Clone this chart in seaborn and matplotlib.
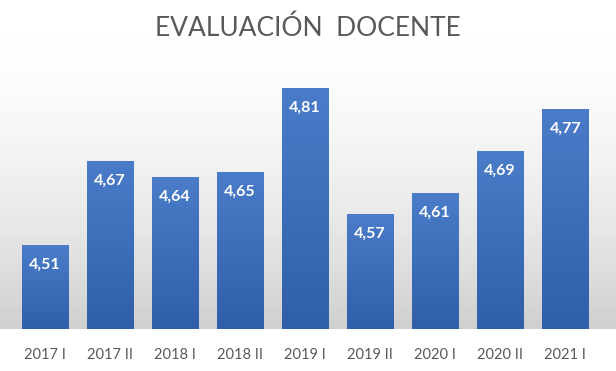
import numpy as np
import pandas as pd
import seaborn as sns
import matplotlib.pyplot as plt
from matplotlib.colors import LinearSegmentedColormap

periods = ['2017 I', '2017 II', '2018 I', '2018 II', '2019 I',
           '2019 II', '2020 I', '2020 II', '2021 I']
scores = [4.51, 4.67, 4.64, 4.65, 4.81, 4.57, 4.61, 4.69, 4.77]

df = pd.DataFrame({'periodo': periods, 'nota': scores})

sns.set_theme(style='white')
plt.rcParams['font.family'] = ['Lato', 'DejaVu Sans']

fig = plt.figure(figsize=(6.16, 3.71), dpi=100)

# soft grey backdrop behind the bars, white below the baseline
bg = fig.add_axes([0, 0, 1, 1], zorder=-5)
bg.axis('off')
rows = np.linspace(0, 1, 371)
shade = np.where(rows < 329 / 371, 1 - 0.19 * (rows / (329 / 371)) ** 1.8, 1.0)
bg.imshow(shade[:, None], cmap='gray', vmin=0, vmax=1, aspect='auto',
          extent=[0, 1, 1, 0])
bg.set_xlim(0, 1)
bg.set_ylim(1, 0)

ymin, ymax = 4.35, 4.85
ax = fig.add_axes([0.0203, 0.1132, 0.950, 0.7075])
ax.patch.set_alpha(0)
sns.barplot(data=df, x='periodo', y='nota', color='#4472c4', width=0.71,
            saturation=1, ax=ax)

# vertical gradient on each bar
blue = LinearSegmentedColormap.from_list('b', ['#4a7cc9', '#2f5fa8'])
grad = np.linspace(0, 1, 256)[:, None]
for bar in ax.patches:
    x0, w, h = bar.get_x(), bar.get_width(), bar.get_height()
    im = ax.imshow(grad, cmap=blue, aspect='auto',
                   extent=[x0, x0 + w, ymin, h], origin='upper', zorder=2)
    im.set_clip_path(bar)
    bar.set_visible(False)
ax.set_xlim(-0.5, len(periods) - 0.5)
ax.set_ylim(ymin, ymax)

for i, v in enumerate(scores):
    ax.text(i, v - 0.038, f'{v:.2f}'.replace('.', ','), ha='center',
            va='center', color='white', fontsize=11.5, fontweight='bold',
            zorder=3)

for s in ax.spines.values():
    s.set_visible(False)
ax.set_yticks([])
ax.set_xlabel('')
ax.set_ylabel('')
ax.tick_params(axis='x', length=0, pad=14, labelsize=10.5,
               labelcolor='#595959')

fig.text(0.5, 0.925, 'EVALUACIÓN  DOCENTE', ha='center', va='center',
         fontsize=19, color='#595959')

fig.savefig('out.png', dpi=100)
